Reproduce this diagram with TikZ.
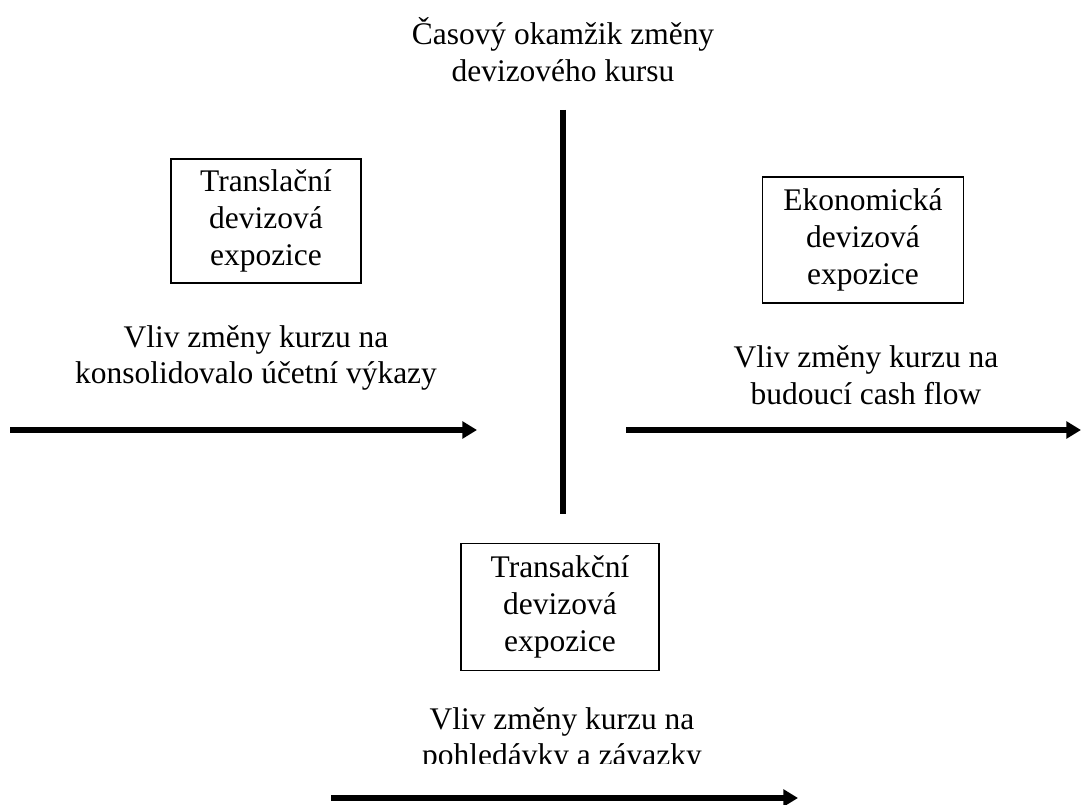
\documentclass[tikz,border=0pt]{standalone}
\usepackage{fontspec}
\setmainfont{Liberation Serif}
\usetikzlibrary{arrows.meta}
\begin{document}
\begin{tikzpicture}[x=0.75pt,y=-0.75pt,
  lbl/.style={align=center,inner sep=0pt,font=\fontsize{23.6}{27.6}\selectfont},
  expbox/.style={draw,line width=0.9pt,align=center,inner sep=0pt,font=\fontsize{23.6}{27.6}\selectfont},
  thick line/.style={line width=3.9pt},
  arr/.style={line width=3.9pt,-{Triangle[length=11pt,width=12.5pt]}}]
\useasboundingbox (0,0) rectangle (1081,805);
% title
\node[lbl] (title) at (563,50) {Časový okamžik změny\\devizového kursu};
% vertical divider
\coordinate (vtop) at (563,110);
\coordinate (vbot) at (563,514);
\draw[thick line] (vtop) -- (vbot);
% boxes
\node[expbox,minimum width=190*0.75pt,minimum height=124*0.75pt] (trans) at (266,221) {Translační\\devizová\\expozice};
\node[expbox,minimum width=201*0.75pt,minimum height=126*0.75pt] (eko) at (863,240) {Ekonomická\\devizová\\expozice};
\node[expbox,minimum width=198*0.75pt,minimum height=127*0.75pt] (trak) at (560,607) {Transakční\\devizová\\expozice};
% descriptions
\node[lbl] (ltext) at (256,358) {Vliv změny kurzu na\\konsolidovalo účetní výkazy};
\node[lbl] (rtext) at (866,375) {Vliv změny kurzu na\\budoucí cash flow};
\begin{scope}
\clip (300,680) rectangle (830,763);
\node[lbl] (btext) at (562,740) {Vliv změny kurzu na\\pohledávky a závazky};
\end{scope}
% arrows
\coordinate (la) at (10,430);
\coordinate (lb) at (477,430);
\coordinate (ra) at (626,430);
\coordinate (rb) at (1081,430);
\coordinate (ba) at (331,798);
\coordinate (bb) at (798,798);
\draw[arr] (la) -- (lb);
\draw[arr] (ra) -- (rb);
\draw[arr] (ba) -- (bb);
\end{tikzpicture}
\end{document}
